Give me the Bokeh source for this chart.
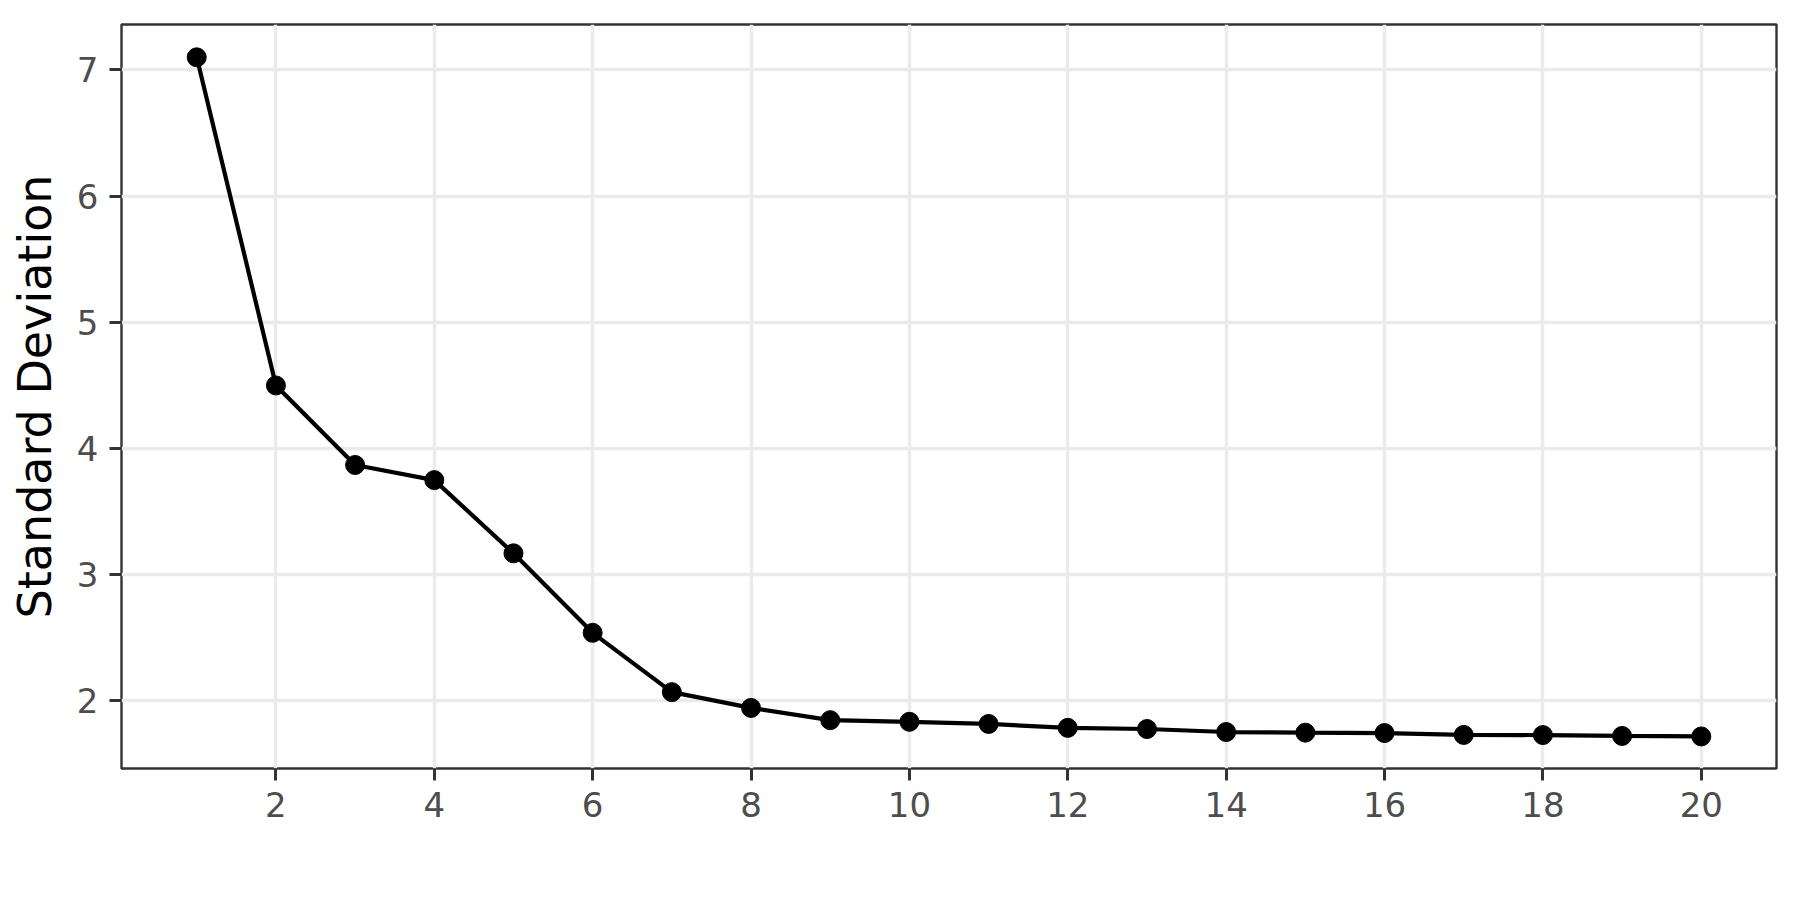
from bokeh.plotting import figure
from bokeh.models import Range1d, FixedTicker, ColumnDataSource
from bokeh.embed import file_html
from bokeh.resources import INLINE

components = list(range(1, 21))
std_dev = [7.10, 4.50, 3.87, 3.75, 3.17, 2.54, 2.07, 1.945, 1.848, 1.835,
           1.818, 1.787, 1.778, 1.754, 1.749, 1.746, 1.731, 1.730, 1.723, 1.719]
x_ticks = [2, 4, 6, 8, 10, 12, 14, 16, 18, 20]
y_ticks = [2, 3, 4, 5, 6, 7]

src = ColumnDataSource(dict(x=components, y=std_dev))

p = figure(width=1784, height=884, output_backend="svg", toolbar_location=None,
           x_range=Range1d(0.05, 20.95), y_range=Range1d(1.465, 7.36),
           min_border_left=121, min_border_right=8, min_border_top=24,
           min_border_bottom=116)

p.line("x", "y", source=src, line_color="black", line_width=4.2)
p.scatter("x", "y", source=src, size=19, fill_color="black", line_color="black")

p.background_fill_color = "white"
p.border_fill_color = "white"
p.outline_line_color = "#333333"
p.outline_line_width = 2.4

p.xgrid.ticker = FixedTicker(ticks=x_ticks)
p.ygrid.ticker = FixedTicker(ticks=y_ticks)
for g in (p.xgrid, p.ygrid):
    g.grid_line_color = "#EBEBEB"
    g.grid_line_width = 3.4

p.xaxis.ticker = FixedTicker(ticks=x_ticks)
p.yaxis.ticker = FixedTicker(ticks=y_ticks)
for ax in (p.xaxis, p.yaxis):
    ax.axis_line_color = None
    ax.major_tick_line_color = "#333333"
    ax.major_tick_line_width = 3
    ax.major_tick_out = 12
    ax.major_tick_in = 0
    ax.minor_tick_line_color = None
    ax.major_label_text_font = "DejaVu Sans"
    ax.major_label_text_font_size = "34px"
    ax.major_label_text_color = "#4D4D4D"
    ax.major_label_standoff = 11

p.yaxis.axis_label = "Standard Deviation"
p.yaxis.axis_label_text_font = "DejaVu Sans"
p.yaxis.axis_label_text_font_size = "46px"
p.yaxis.axis_label_text_font_style = "normal"
p.yaxis.axis_label_text_color = "black"
p.yaxis.axis_label_standoff = 12

open("out.html", "w").write(file_html(p, INLINE))
